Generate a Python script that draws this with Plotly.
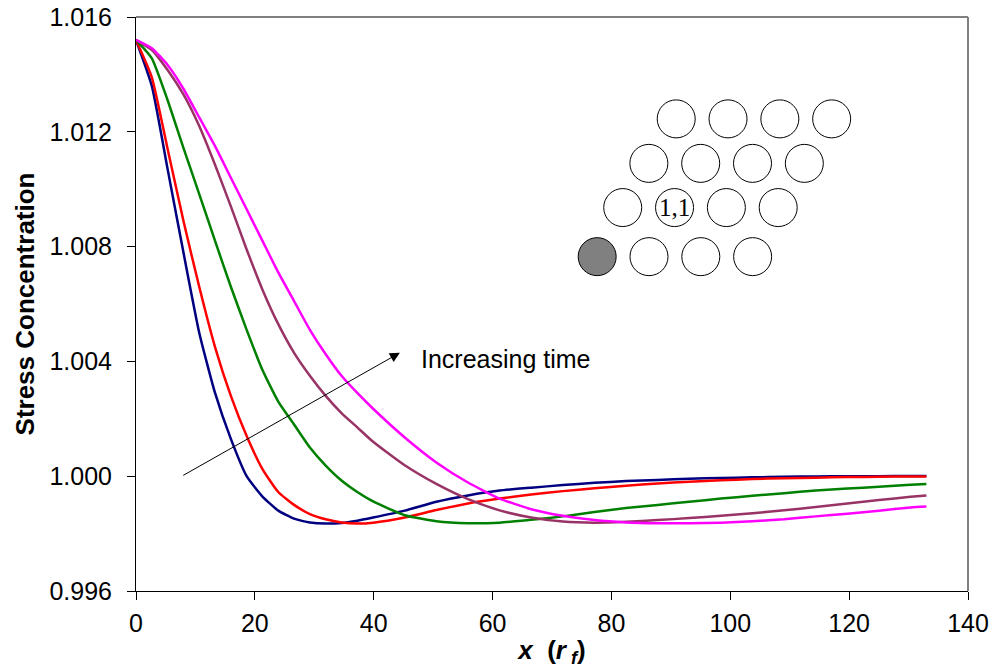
import plotly.graph_objects as go

# ---------------- data ----------------
x_vals = [0, 2.66, 5.32, 7.98, 10.64, 13.3, 15.96, 18.62, 21.28, 23.94, 26.6, 29.26,
          31.92, 34.58, 37.24, 39.9, 45.22, 50.54, 55.86, 61.18, 66.5, 71.82, 77.14,
          82.46, 87.78, 93.1, 98.42, 103.74, 109.06, 114.38, 119.7, 125.02, 130.34, 133.0]

navy_vals = [1.0152, 1.0136, 1.0107, 1.0078, 1.0050, 1.0029, 1.0013, 1.0000, 0.99929,
             0.99880, 0.99852, 0.99839, 0.99835, 0.99837, 0.99845, 0.99856, 0.99880,
             0.99911, 0.99933, 0.99950, 0.99960, 0.99969, 0.99977, 0.99983, 0.99987,
             0.99991, 0.99994, 0.99996, 0.99998, 0.99999, 1.00000, 1.00000, 1.00001, 1.00001]

red_vals = [1.0152, 1.0139, 1.0114, 1.0089, 1.0066, 1.0045, 1.0028, 1.0014, 1.00025,
            0.99945, 0.99900, 0.99868, 0.99850, 0.99839, 0.99835, 0.99838, 0.99856,
            0.99882, 0.99905, 0.99922, 0.99936, 0.99948, 0.99958, 0.99967, 0.99975,
            0.99981, 0.99986, 0.99990, 0.99993, 0.99995, 0.99997, 0.99998, 0.99999, 0.99999]

green_vals = [1.0152, 1.01456, 1.0131, 1.01144, 1.00983, 1.0082, 1.0066, 1.0051, 1.0037,
              1.0026, 1.0018, 1.0010, 1.00037, 0.99985, 0.99945, 0.99912, 0.99864,
              0.99843, 0.99836, 0.99838, 0.99848, 0.99860, 0.99875, 0.99889, 0.99900,
              0.99911, 0.99922, 0.99932, 0.99941, 0.99950, 0.99957, 0.99963, 0.99970, 0.99973]

purple_vals = [1.0152, 1.01485, 1.01415, 1.0133, 1.0122, 1.01085, 1.0094, 1.0079, 1.0065,
               1.0053, 1.0043, 1.0035, 1.0028, 1.0022, 1.0017, 1.0012, 1.00038,
               0.99973, 0.99920, 0.99881, 0.99856, 0.99842, 0.99838, 0.99841, 0.99847,
               0.99854, 0.99862, 0.99871, 0.99881, 0.99893, 0.99905, 0.99917, 0.99928, 0.99933]

magenta_vals = [1.0152, 1.01491, 1.01433, 1.0135, 1.0125, 1.0115, 1.0104, 1.0093, 1.0082,
                1.0071, 1.0061, 1.0051, 1.00425, 1.0035, 1.0029, 1.00235, 1.00135,
                1.00048, 0.99978, 0.99922, 0.99885, 0.99862, 0.99847, 0.99839, 0.99836,
                0.99836, 0.99838, 0.99843, 0.99850, 0.99860, 0.99869, 0.99880, 0.99891, 0.99894]

series_names = ["t1", "t2", "t3", "t4", "t5"]
series_colors = ["#000080", "#FF0000", "#008000", "#993366", "#FF00FF"]
series_values = [navy_vals, red_vals, green_vals, purple_vals, magenta_vals]

x_ticks = [0, 20, 40, 60, 80, 100, 120, 140]
y_ticks = [0.996, 1.000, 1.004, 1.008, 1.012, 1.016]

# fibre-array inset: row y (data), first column x (data), column spacing
inset_row_y = [1.01245, 1.01090, 1.00936, 1.00765]
inset_row_x0 = [90.9, 86.3, 81.9, 77.6]
inset_dx = 8.72
inset_cols = 4

FONT = "Arial, Liberation Sans, sans-serif"

fig = go.Figure()
for name, col, vals in zip(series_names, series_colors, series_values):
    fig.add_trace(go.Scatter(x=x_vals, y=vals, mode="lines", name=name,
                             line=dict(color=col, width=2.5, shape="spline", smoothing=0.5),
                             showlegend=False))

shapes = []
# gray top / right border of plot area
shapes.append(dict(type="line", xref="paper", yref="paper", x0=0, x1=1, y0=1, y1=1,
                   line=dict(color="#808080", width=2)))
shapes.append(dict(type="line", xref="paper", yref="paper", x0=1, x1=1, y0=0, y1=1,
                   line=dict(color="#808080", width=2)))

for r, (ry, rx0) in enumerate(zip(inset_row_y, inset_row_x0)):
    for c in range(inset_cols):
        cx = rx0 + c * inset_dx
        fill = "#808080" if (r == 3 and c == 0) else "white"
        shapes.append(dict(type="circle", xref="x", yref="y",
                           xsizemode="pixel", ysizemode="pixel",
                           xanchor=cx, yanchor=ry, x0=-19, x1=19, y0=-19, y1=19,
                           line=dict(color="black", width=1), fillcolor=fill,
                           layer="above"))

annotations = [
    dict(x=44.4, y=1.0043, ax=7.7, ay=1.0000, xref="x", yref="y", axref="x", ayref="y",
         showarrow=True, arrowhead=2, arrowsize=2, arrowwidth=1, arrowcolor="black",
         text=""),
    dict(x=47.6, y=1.00408, xref="x", yref="y", text="Increasing time", showarrow=False,
         xanchor="left", yanchor="middle", font=dict(family=FONT, size=25, color="black")),
    dict(x=inset_row_x0[2] + inset_dx, y=inset_row_y[2], xref="x", yref="y", text="1,1",
         showarrow=False, xanchor="center", yanchor="middle",
         font=dict(family="Liberation Serif, Times New Roman, serif", size=25, color="black")),
]

fig.update_layout(
    width=997, height=670,
    margin=dict(l=136, r=29, t=17, b=79, autoexpand=False),
    paper_bgcolor="white", plot_bgcolor="white",
    font=dict(family=FONT, size=25, color="black"),
    shapes=shapes, annotations=annotations,
    xaxis=dict(range=[0, 140], tickvals=x_ticks, ticktext=[str(v) for v in x_ticks],
               showgrid=False, zeroline=False, showline=True, linecolor="black", linewidth=1,
               ticks="outside", ticklen=8, tickcolor="black", tickwidth=1,
               ticklabelstandoff=2,
               tickfont=dict(family=FONT, size=25, color="black"),
               title=dict(text="<b><i>x</i></b><b>  (<i>r</i><sub><i> f</i></sub>)</b>",
                          font=dict(family=FONT, size=26, color="black"), standoff=4)),
    yaxis=dict(range=[0.996, 1.016], tickvals=y_ticks, ticktext=[f"{v:.3f}" for v in y_ticks],
               showgrid=False, zeroline=False, showline=True, linecolor="black", linewidth=1,
               ticks="outside", ticklen=8, tickcolor="black", tickwidth=1,
               ticklabelstandoff=10,
               tickfont=dict(family=FONT, size=25, color="black"),
               title=dict(text="<b>Stress Concentration</b>",
                          font=dict(family=FONT, size=26, color="black"), standoff=7)),
)

fig.write_html("out.html")
